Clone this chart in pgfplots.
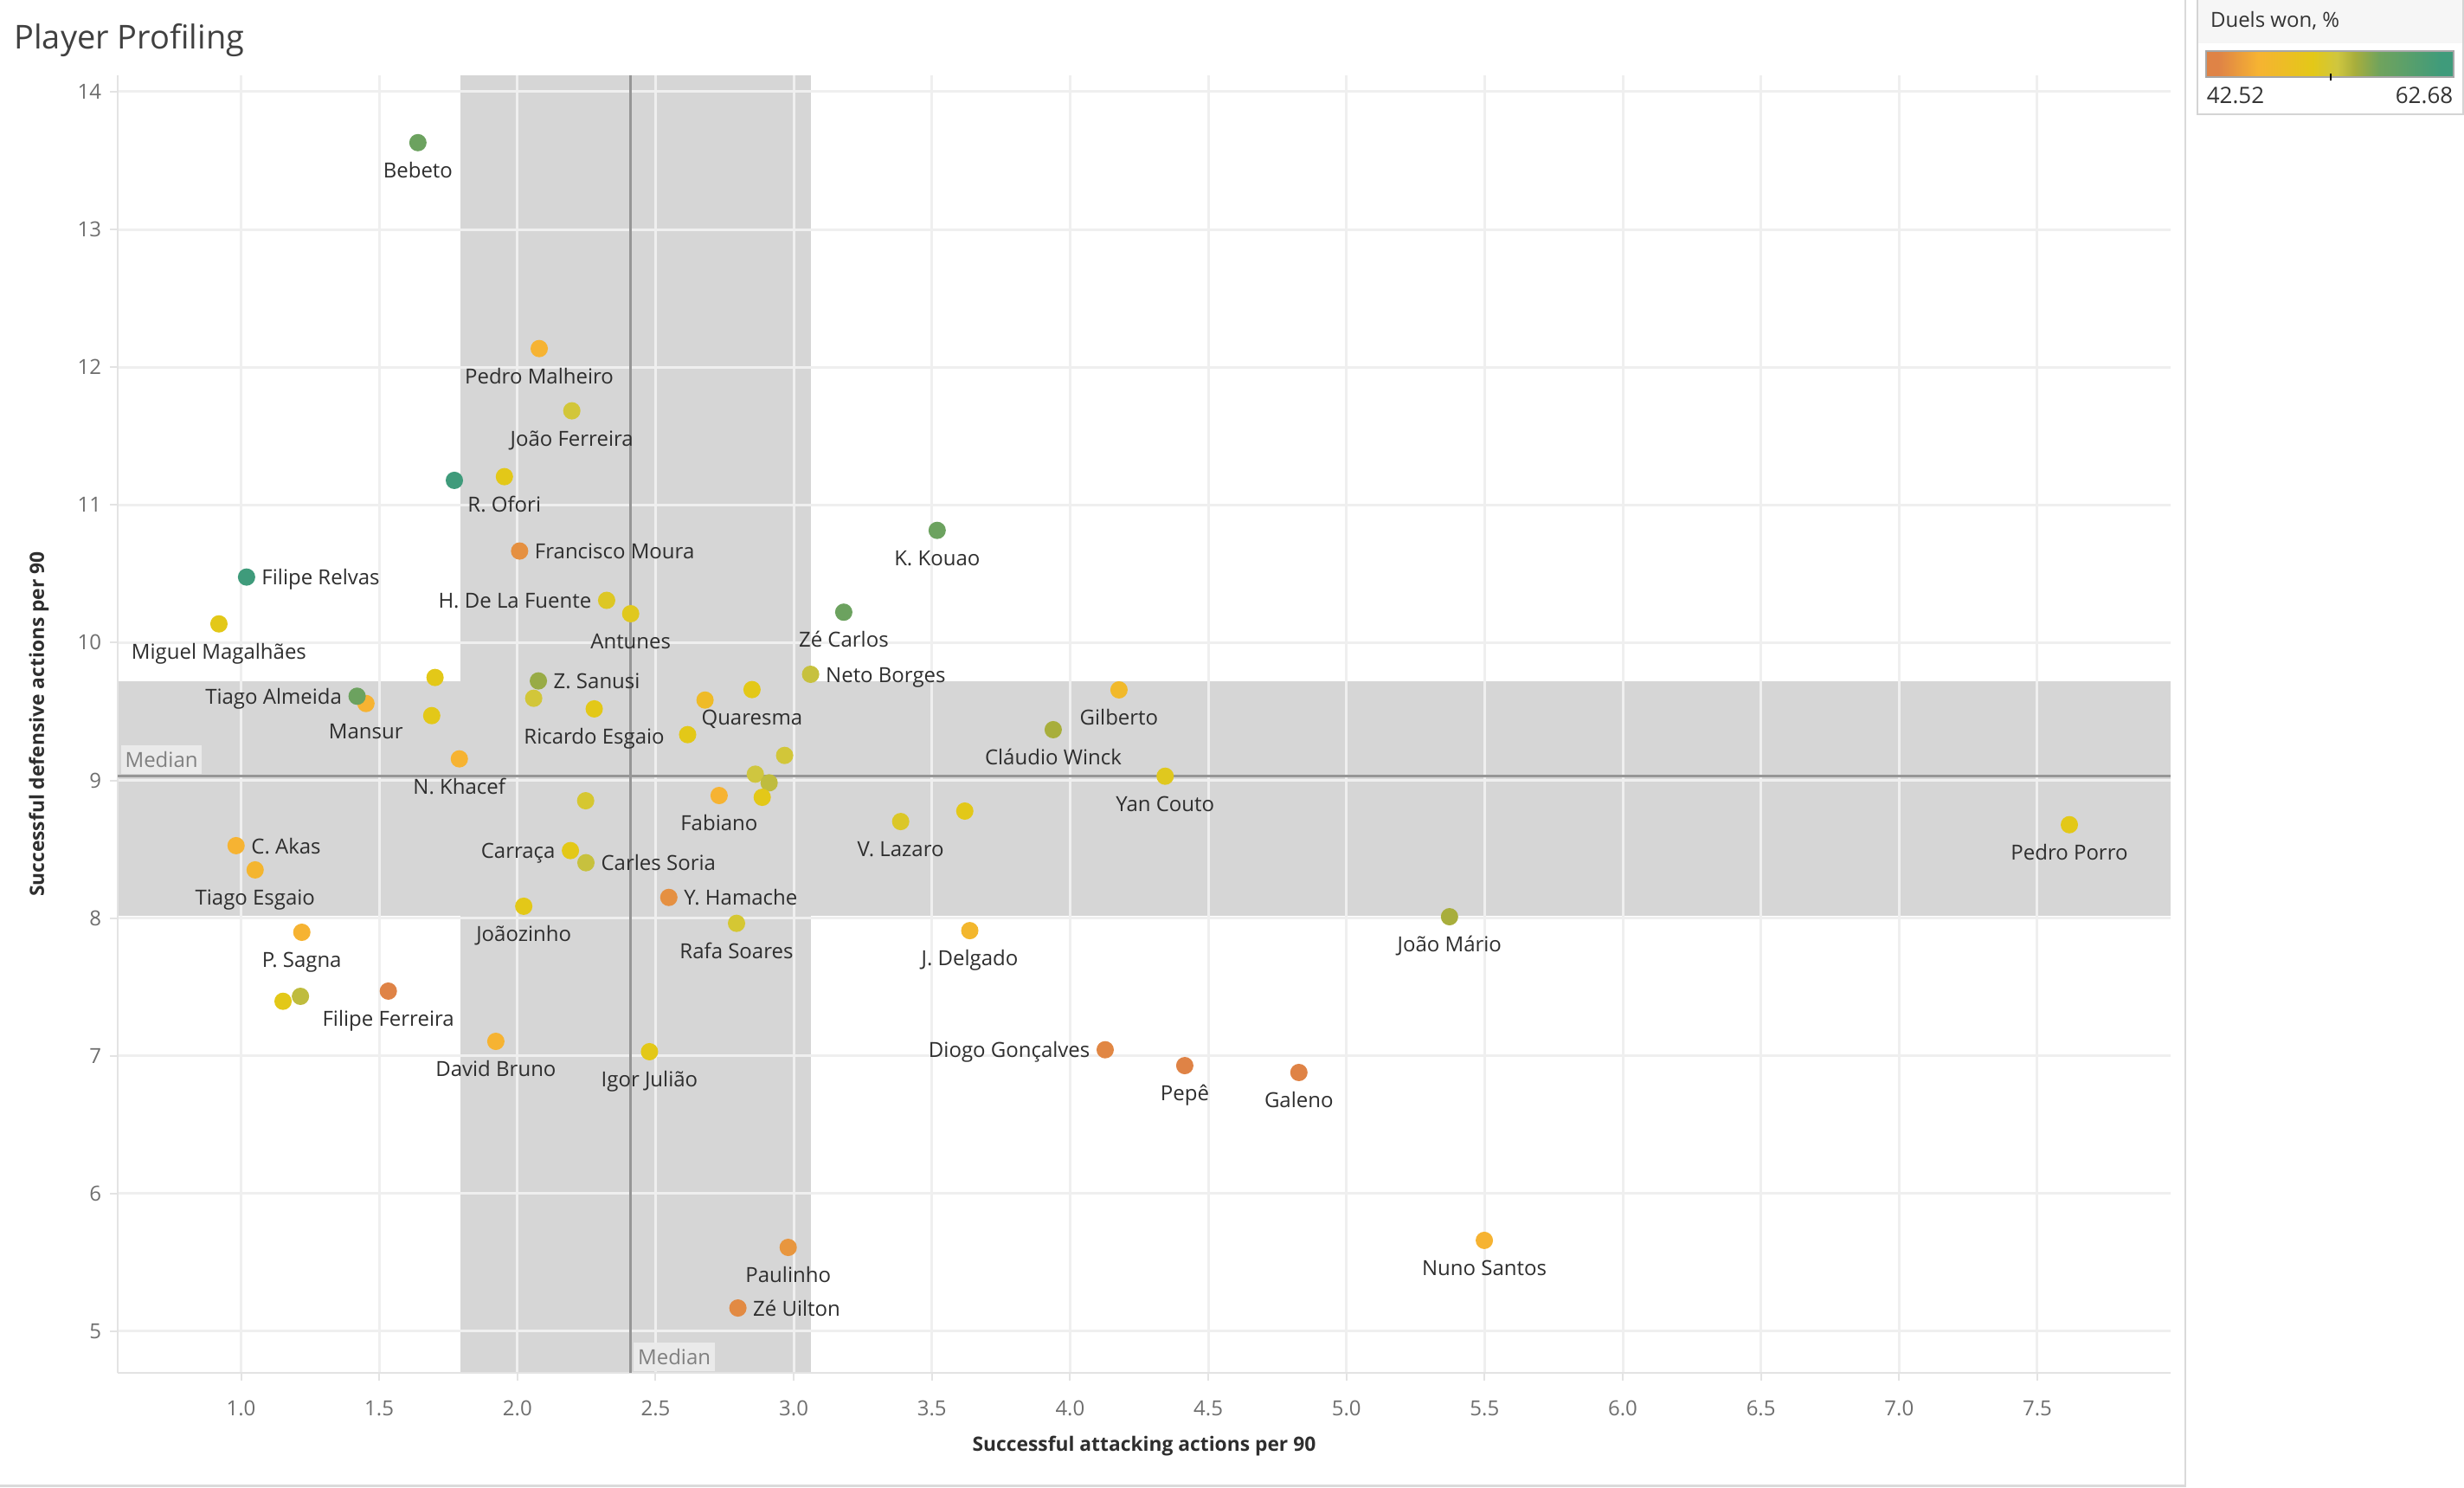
\documentclass[border=0pt]{standalone}
\usepackage{pgfplots}
\pgfplotsset{compat=1.18}
\usepackage{pgfplotstable}
\usepackage{fontspec}
\setmainfont{Open Sans}
\definecolor{bandgray}{HTML}{D6D6D6}
\definecolor{gridgray}{HTML}{EFEFEF}
\definecolor{mediangray}{HTML}{969696}
\definecolor{medianbox}{HTML}{EAEAEA}
\definecolor{mediantext}{HTML}{808080}
\definecolor{tickgray}{HTML}{6E6E6E}
\definecolor{labcol}{HTML}{2E2E2E}
\definecolor{axisgray}{HTML}{E3E3E3}
\definecolor{sepgray}{HTML}{DADADA}
\definecolor{legtitle}{HTML}{F6F6F6}
\definecolor{legborder}{HTML}{D4D4D4}
\definecolor{c0}{RGB}{223,131,70}
\definecolor{c1}{RGB}{246,179,50}
\definecolor{c2}{RGB}{227,200,24}
\definecolor{c3}{RGB}{207,198,63}
\definecolor{c4}{RGB}{168,174,60}
\definecolor{c5}{RGB}{112,163,93}
\definecolor{c6}{RGB}{63,155,123}
\pgfdeclarehorizontalshading{duelshade}{100bp}{color(0bp)=(c0); color(25bp)=(c0); color(27.5bp)=(c0); color(35.5bp)=(c1); color(46.5bp)=(c2); color(51.5bp)=(c3); color(55bp)=(c4); color(60bp)=(c5); color(72.5bp)=(c6); color(75bp)=(c6); color(100bp)=(c6)}
\pgfplotsset{colormap={duels}{rgb255(0cm)=(223,131,70) rgb255(1cm)=(223,131,70) rgb255(4.2cm)=(246,179,50) rgb255(8.6cm)=(227,200,24) rgb255(10.6cm)=(207,198,63) rgb255(12cm)=(168,174,60) rgb255(14cm)=(112,163,93) rgb255(19cm)=(63,155,123) rgb255(20cm)=(63,155,123)}}

% players labelled below the dot
\pgfplotstableread{
x y duel name
1.640 13.630 57.0 {Bebeto}
2.079 12.135 46.8 {Pedro Malheiro}
2.197 11.683 52.9 {João Ferreira}
1.953 11.205 51.2 {R. Ofori}
0.920 10.136 51.2 {Miguel Magalhães}
2.410 10.210 51.5 {Antunes}
3.519 10.815 57.0 {K. Kouao}
3.181 10.221 57.0 {Zé Carlos}
1.452 9.558 46.8 {Mansur}
2.278 9.519 51.2 {Ricardo Esgaio}
2.849 9.659 51.2 {Quaresma}
1.790 9.156 46.8 {N. Khacef}
2.730 8.890 46.8 {Fabiano}
3.387 8.701 52.0 {V. Lazaro}
4.177 9.657 48.0 {Gilberto}
3.939 9.368 54.6 {Cláudio Winck}
4.344 9.030 51.5 {Yan Couto}
3.637 7.909 47.5 {J. Delgado}
1.051 8.350 47.2 {Tiago Esgaio}
1.220 7.897 46.8 {P. Sagna}
1.533 7.470 43.0 {Filipe Ferreira}
1.922 7.105 46.8 {David Bruno}
2.478 7.030 51.2 {Igor Julião}
2.023 8.086 51.2 {Joãozinho}
2.793 7.962 52.6 {Rafa Soares}
4.415 6.929 43.2 {Pepê}
4.828 6.879 43.0 {Galeno}
2.980 5.609 44.8 {Paulinho}
5.373 8.010 54.6 {João Mário}
7.616 8.678 51.2 {Pedro Porro}
5.499 5.660 46.8 {Nuno Santos}
}\playersbelow

% players labelled to the right of the dot
\pgfplotstableread{
x y duel name
2.008 10.665 44.4 {Francisco Moura}
1.020 10.476 62.0 {Filipe Relvas}
3.061 9.770 53.5 {Neto Borges}
2.076 9.722 55.2 {Z. Sanusi}
0.982 8.526 46.8 {C. Akas}
2.248 8.402 53.5 {Carles Soria}
2.548 8.150 44.4 {Y. Hamache}
2.798 5.169 44.0 {Zé Uilton}
}\playersright

% players labelled to the left of the dot
\pgfplotstableread{
x y duel name
2.323 10.307 51.8 {H. De La Fuente}
1.420 9.611 57.0 {Tiago Almeida}
2.192 8.490 51.2 {Carraça}
4.127 7.044 43.8 {Diogo Gonçalves}
}\playersleft

% players without a label
\pgfplotstableread{
x y duel
1.772 11.178 62.5
1.702 9.747 51.2
2.059 9.596 52.9
1.690 9.470 51.2
2.679 9.583 48.5
2.616 9.332 51.2
2.967 9.181 52.9
2.861 9.045 53.2
2.911 8.982 53.8
2.886 8.877 51.2
2.247 8.852 52.5
3.619 8.777 51.2
1.152 7.396 51.2
1.215 7.432 53.8
}\playersnolabel

\pgfplotsset{
  dots/.style={scatter, only marks, mark=*, mark size=2.3pt,
    scatter/use mapped color={draw=mapped color, fill=mapped color},
    point meta=explicit},
  names/.style={only marks, mark=none, nodes near coords, point meta=explicit symbolic,
    nodes near coords style={anchor=#1, inner sep=0pt, outer xsep=4.4pt, outer ysep=5.5pt,
      text height=4.6pt, text depth=0pt, font=\fontsize{6}{7}\selectfont, text=labcol}},
}

\begin{document}
\begin{tikzpicture}
\begin{axis}[
  set layers,
  scale only axis,
  width=593pt, height=374.75pt,
  at={(34pt,33pt)}, anchor=south west,
  xmin=0.5537, xmax=7.9825, ymin=4.698, ymax=14.119,
  xtick={1,1.5,...,7.5}, ytick={5,6,...,14},
  axis x line*=bottom, axis y line*=left,
  axis line style={draw=axisgray, line width=0.6pt},
  tick align=outside, major tick length=2.2pt,
  tick style={draw=axisgray, line width=0.5pt},
  grid=major,
  major grid style={draw=gridgray, line width=0.75pt},
  /pgf/number format/assume math mode=true,
  tick label style={font=\fontsize{6}{7}\selectfont, text=tickgray},
  x tick label style={/pgf/number format/fixed, /pgf/number format/fixed zerofill, /pgf/number format/precision=1, yshift=-2.3pt},
  y tick label style={xshift=1pt},
  xlabel={Successful attacking actions per 90},
  ylabel={Successful defensive actions per 90},
  xlabel style={at={(axis description cs:0.5,0)}, anchor=base, yshift=-22.7pt, font=\bfseries\fontsize{5.7}{7}\selectfont, text=labcol},
  ylabel style={at={(axis description cs:0,0.5)}, anchor=base, yshift=21.25pt, font=\bfseries\fontsize{5.7}{7}\selectfont, text=labcol},
  colormap name=duels,
  point meta min=42.52, point meta max=62.68,
]
% shaded bands
\addplot[on layer=axis background, fill=bandgray, draw=none] coordinates {(1.793,4.698) (3.063,4.698) (3.063,14.119) (1.793,14.119)} -- cycle;
\addplot[on layer=axis background, fill=bandgray, draw=none] coordinates {(0.5537,8.014) (7.9825,8.014) (7.9825,9.722) (0.5537,9.722)} -- cycle;
% median lines
\draw[mediangray, line width=0.75pt] (axis cs:2.41,4.698) -- (axis cs:2.41,14.119);
\draw[mediangray, line width=0.75pt] (axis cs:0.5537,9.03) -- (axis cs:7.9825,9.03);
\node[anchor=south west, fill=medianbox, text=mediantext, inner xsep=1.2pt, inner ysep=1.7pt, text height=4.6pt, text depth=0.3pt, font=\fontsize{6}{7}\selectfont, xshift=0.75pt, yshift=0.4pt] at (axis cs:0.5537,9.03) {Median};
\node[anchor=south west, fill=medianbox, text=mediantext, inner xsep=1.2pt, inner ysep=1.7pt, text height=4.6pt, text depth=0.3pt, font=\fontsize{6}{7}\selectfont, xshift=0.7pt, yshift=0.2pt] at (axis cs:2.41,4.698) {Median};
% player dots, coloured by duels won %
\addplot[dots] table[x=x, y=y, meta=duel] {\playersnolabel};
\addplot[dots] table[x=x, y=y, meta=duel] {\playersbelow};
\addplot[dots] table[x=x, y=y, meta=duel] {\playersright};
\addplot[dots] table[x=x, y=y, meta=duel] {\playersleft};
% player names
\addplot[names=north] table[x=x, y=y, meta=name] {\playersbelow};
\addplot[names=west] table[x=x, y=y, meta=name] {\playersright};
\addplot[names=east] table[x=x, y=y, meta=name] {\playersleft};
\end{axis}
% title
\node[anchor=base west, inner sep=0pt, font=\fontsize{9.5}{11}\selectfont, text=black!75] at (3.9pt,415.3pt) {Player Profiling};
% separators
\draw[sepgray, line width=0.7pt] (631.25pt,0pt) -- (631.25pt,429.5pt);
\draw[sepgray, line width=0.6pt] (0pt,0.4pt) -- (631.25pt,0.4pt);
% legend
\fill[legtitle] (634.75pt,417pt) rectangle (711.4pt,429.5pt);
\draw[legborder, line width=0.5pt] (711.4pt,429.5pt) -- (711.4pt,396.4pt) -- (634.75pt,396.4pt) -- (634.75pt,429.5pt);
\node[anchor=base west, inner sep=0pt, font=\fontsize{6}{7}\selectfont, text=black!80] at (638.3pt,421.6pt) {Duels won, \%};
\shade[shading=duelshade] (637.25pt,407.25pt) rectangle (708.75pt,414.75pt);
\draw[black!35, line width=0.4pt] (637.25pt,407.25pt) rectangle (708.75pt,414.75pt);
\draw[black, line width=0.6pt] (673.25pt,406.3pt) -- (673.25pt,408.3pt);
\node[anchor=base west, inner sep=0pt, font=\fontsize{6.5}{7}\selectfont, text=black!80] at (637.25pt,399.5pt) {42.52};
\node[anchor=base east, inner sep=0pt, font=\fontsize{6.5}{7}\selectfont, text=black!80] at (708.75pt,399.5pt) {62.68};
\pgfresetboundingbox
\path[use as bounding box] (0pt,0pt) rectangle (711.75pt,429.5pt);
\end{tikzpicture}
\end{document}
